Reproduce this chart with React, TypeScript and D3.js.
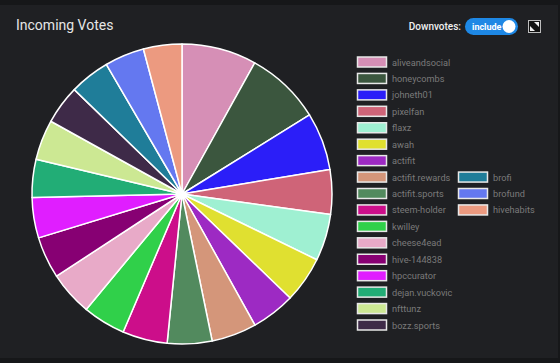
import React, { useEffect, useRef } from 'react';
import * as d3 from 'd3';

// voters, in legend order
const voters = [
  'aliveandsocial', 'honeycombs', 'johneth01', 'pixelfan', 'flaxz', 'awah', 'actifit',
  'actifit.rewards', 'actifit.sports', 'steem-holder', 'kwilley', 'cheese4ead', 'hive-144838',
  'hpccurator', 'dejan.vuckovic', 'nfttunz', 'bozz.sports', 'brofi', 'brofund', 'hivehabits',
];
// share of incoming votes
const votes = [
  29.0, 29.2, 22.4, 17.3, 18.1, 17.9, 17.0, 17.5, 17.3, 17.4,
  16.6, 17.1, 16.2, 15.7, 14.7, 15.6, 15.1, 15.6, 15.4, 14.9,
];
const colors = [
  '#d68fb6', '#3b563e', '#2b1ef8', '#cf6478', '#9ff0d2', '#e0e030', '#9d2ac3',
  '#d4967a', '#528a5e', '#cc0e8a', '#30d04a', '#e8aac8', '#870073', '#e01eff',
  '#22ad76', '#cce893', '#3e2a48', '#1f7d99', '#6478f0', '#ec9a80',
];

const W = 560, H = 363;

const App = () => {
  const ref = useRef<SVGSVGElement>(null);

  useEffect(() => {
    const svg = d3.select(ref.current);
    svg.selectAll('*').remove();

    // page + card
    svg.append('rect').attr('width', W).attr('height', H).attr('fill', '#161719');
    svg.append('rect').attr('x', 0).attr('y', 5).attr('width', 558).attr('height', 353)
      .attr('fill', '#1f2023');

    svg.append('text').attr('x', 16).attr('y', 30)
      .attr('fill', '#e6e6e6').attr('font-size', 14)
      .attr('font-family', 'Roboto, Arial, sans-serif')
      .text('Incoming Votes');

    // downvotes toggle
    svg.append('text').attr('x', 461).attr('y', 30).attr('text-anchor', 'end')
      .attr('fill', '#f0f0f0').attr('font-size', 10).attr('font-weight', 500)
      .attr('font-family', 'Roboto, Arial, sans-serif').text('Downvotes:');
    svg.append('rect').attr('x', 465).attr('y', 18).attr('width', 53).attr('height', 17)
      .attr('rx', 8.5).attr('fill', '#1e88e5');
    svg.append('text').attr('x', 472).attr('y', 29.5)
      .attr('fill', '#fff').attr('font-size', 9).attr('font-weight', 700)
      .attr('font-family', 'Roboto, Arial, sans-serif').text('include');
    svg.append('circle').attr('cx', 509).attr('cy', 26.5).attr('r', 6.5).attr('fill', '#fff');

    // expand icon
    const ic = svg.append('g').attr('transform', 'translate(528,20)');
    ic.append('rect').attr('x', 0.5).attr('y', 0.5).attr('width', 12).attr('height', 12)
      .attr('fill', '#111').attr('stroke', '#bdbdbd').attr('stroke-width', 1);
    ic.append('path').attr('d', 'M2,11 L2,6 L7,11 Z').attr('fill', '#eee');
    ic.append('path').attr('d', 'M11,2 L6,2 L11,7 Z').attr('fill', '#eee');

    // pie
    const cx = 182, cy = 194, r = 150;
    const pie = d3.pie<number>().sort(null).value(d => d);
    const arc = d3.arc<d3.PieArcDatum<number>>().innerRadius(0).outerRadius(r);
    svg.append('g').attr('transform', `translate(${cx},${cy})`)
      .selectAll('path')
      .data(pie(votes))
      .enter().append('path')
      .attr('d', arc)
      .attr('fill', (d, i) => colors[i])
      .attr('stroke', '#fff')
      .attr('stroke-width', 1.5)
      .attr('stroke-linejoin', 'round');

    // legend: 17 rows in first column, the rest start at row 7 of the second
    const perCol = 17;
    const row = d3.scaleLinear().domain([0, 16]).range([62, 325]);
    const colX = [357, 458];
    const legend = svg.selectAll('.legend')
      .data(voters)
      .enter().append('g')
      .attr('class', 'legend')
      .attr('transform', (d, i) => {
        const c = i < perCol ? 0 : 1;
        const rr = i < perCol ? i : i - perCol + 7;
        return `translate(${colX[c]},${row(rr)})`;
      });
    legend.append('rect')
      .attr('x', 0.5).attr('y', -5).attr('width', 29).attr('height', 10)
      .attr('fill', (d, i) => colors[i])
      .attr('stroke', '#e8e8e8').attr('stroke-width', 1.5);
    legend.append('text')
      .attr('x', 35).attr('y', 3.5)
      .attr('fill', '#7a7a7a').attr('font-size', 9.2)
      .attr('font-family', 'Roboto, Arial, sans-serif')
      .text(d => d);
  }, []);

  return (
    <svg ref={ref} width={W} height={H}
      style={{ position: 'absolute', left: 0, top: 0, display: 'block' }} />
  );
};

export default App;
